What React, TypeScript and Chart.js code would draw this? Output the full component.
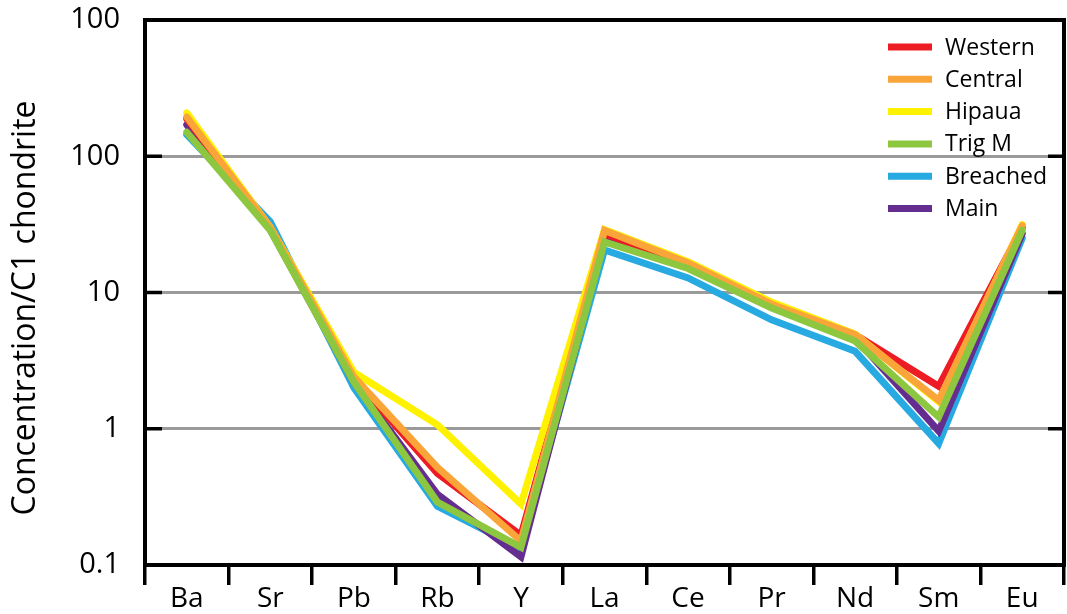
import { useEffect, useRef } from 'react';
import { Chart, registerables } from 'chart.js';

Chart.register(...registerables);

// Chondrite-normalised trace element patterns
const elements = ['Ba', 'Sr', 'Pb', 'Rb', 'Y', 'La', 'Ce', 'Pr', 'Nd', 'Sm', 'Eu'];

const western = [188, 29.5, 2.35, 0.47, 0.165, 27, 16, 8.1, 4.9, 2.05, 30];
const central = [194, 30, 2.4, 0.52, 0.15, 28.5, 16.5, 8.2, 4.9, 1.62, 31];
const hipaua = [208, 30, 2.6, 1.07, 0.28, 29, 16.8, 8.5, 4.95, 1.58, 31.5];
const trigM = [150, 28.5, 2.2, 0.29, 0.135, 23.5, 15, 7.7, 4.4, 1.22, 28.6];
const breached = [144, 33, 2.0, 0.27, 0.132, 20.5, 12.8, 6.3, 3.7, 0.78, 25];
const main = [170, 29, 2.2, 0.33, 0.115, 25.5, 15.5, 7.9, 4.65, 0.96, 27];

const seriesNames = ['Western', 'Central', 'Hipaua', 'Trig M', 'Breached', 'Main'];
const seriesValues = [western, central, hipaua, trigM, breached, main];
const seriesColors = ['#ED1C24', '#FAA53A', '#FFF200', '#8DC63F', '#27AAE1', '#662D91'];
// lower number is painted on top
const seriesLayer = [3, 1, 2, 0, 5, 4];

const tickValues = [0.1, 1, 10, 100, 1000];
const tickLabels = ['0.1', '1', '10', '100', '100'];
const gridValues = [1, 10, 100];

const axisTitle = 'Concentration/C1 chondrite';
const FONT = '"Open Sans", sans-serif';

const framePlugin = {
  id: 'frameAndKey',
  afterDraw(chart: any) {
    const { ctx, chartArea } = chart;
    const { left, top, right, bottom } = chartArea;
    const yScale = chart.scales.y;
    ctx.save();

    // short black stubs at both ends of each grid line
    ctx.strokeStyle = '#000';
    ctx.lineWidth = 3.5;
    ctx.lineCap = 'butt';
    gridValues.forEach((v) => {
      const y = yScale.getPixelForValue(v);
      ctx.beginPath();
      ctx.moveTo(left, y);
      ctx.lineTo(left + 17, y);
      ctx.moveTo(right - 16, y);
      ctx.lineTo(right, y);
      ctx.stroke();
    });

    // plot frame
    ctx.lineWidth = 4;
    ctx.beginPath();
    ctx.rect(left, top, right - left, bottom - top);
    ctx.stroke();

    // key
    ctx.font = `23px ${FONT}`;
    ctx.textBaseline = 'middle';
    ctx.textAlign = 'left';
    seriesNames.forEach((name, i) => {
      const y = 47 + i * 32.3;
      ctx.strokeStyle = seriesColors[i];
      ctx.lineWidth = 7;
      ctx.beginPath();
      ctx.moveTo(888, y);
      ctx.lineTo(932, y);
      ctx.stroke();
      ctx.fillStyle = '#000';
      ctx.fillText(name, 945, y + 1);
    });

    // vertical axis title
    ctx.translate(26, 308);
    ctx.rotate(-Math.PI / 2);
    ctx.textAlign = 'center';
    ctx.font = `32px ${FONT}`;
    ctx.fillStyle = '#000';
    ctx.fillText(axisTitle, 0, 0);
    ctx.restore();
  },
};

export default function App() {
  const canvasRef = useRef<HTMLCanvasElement | null>(null);

  useEffect(() => {
    if (!canvasRef.current) return;
    const chart = new Chart(canvasRef.current, {
      type: 'line',
      data: {
        labels: elements,
        datasets: seriesNames.map((name, i) => ({
          label: name,
          data: seriesValues[i],
          borderColor: seriesColors[i],
          backgroundColor: seriesColors[i],
          borderWidth: 7,
          pointRadius: 0,
          tension: 0,
          borderJoinStyle: 'miter' as const,
          borderCapStyle: 'round' as const,
          order: seriesLayer[i],
        })),
      },
      options: {
        animation: false,
        responsive: false,
        layout: { padding: { top: 20, right: 3, left: 0, bottom: 0 } },
        plugins: {
          legend: { display: false },
          tooltip: { enabled: false },
        },
        scales: {
          x: {
            type: 'category',
            offset: true,
            border: { display: false },
            grid: {
              offset: true,
              drawOnChartArea: false,
              drawTicks: true,
              tickLength: 20,
              color: '#000',
              lineWidth: 3.5,
            },
            ticks: {
              color: '#000',
              padding: -3,
              font: { family: FONT, size: 28 },
              maxRotation: 0,
              autoSkip: false,
            },
            afterFit: (scale: any) => {
              scale.height = 49;
              scale.paddingLeft = 0;
              scale.paddingRight = 0;
            },
          },
          y: {
            type: 'logarithmic',
            min: 0.1,
            max: 1000,
            border: { display: false },
            grid: {
              drawTicks: false,
              color: (c: any) => (gridValues.includes(c.tick?.value) ? '#9a9a9a' : 'rgba(0,0,0,0)'),
              lineWidth: 3,
            },
            afterBuildTicks: (scale: any) => {
              scale.ticks = tickValues.map((v) => ({ value: v }));
            },
            ticks: {
              color: '#000',
              padding: 25,
              font: { family: FONT, size: 29 },
              callback: (_v: any, index: number) => tickLabels[index],
            },
            afterFit: (scale: any) => {
              scale.width = 145;
              scale.paddingTop = 0;
              scale.paddingBottom = 0;
            },
          },
        },
      },
      plugins: [framePlugin],
    });
    return () => chart.destroy();
  }, []);

  return (
    <div style={{ position: 'absolute', left: 0, top: 0, width: 1067, height: 614, background: '#fff' }}>
      <canvas ref={canvasRef} width={1067} height={614} style={{ display: 'block' }} />
    </div>
  );
}
